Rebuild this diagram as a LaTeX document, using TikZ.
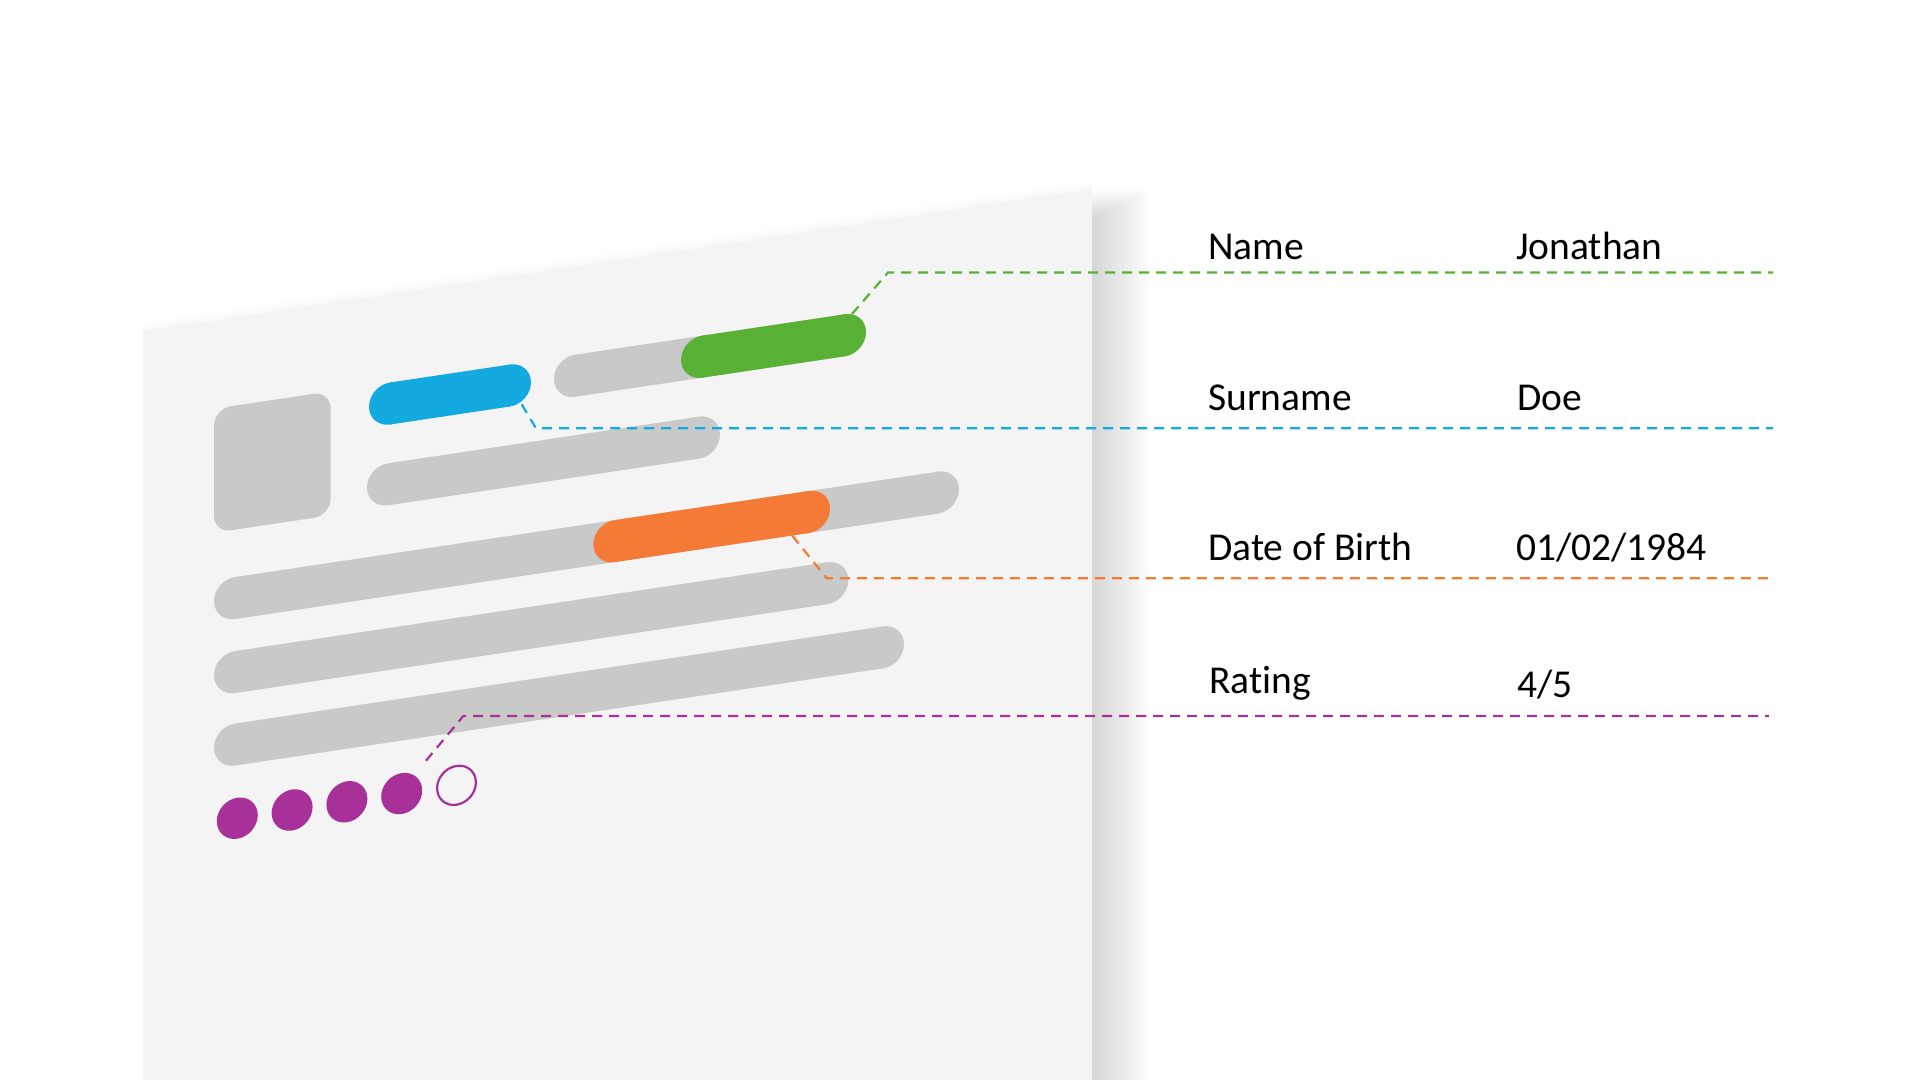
\documentclass[tikz,border=0pt]{standalone}
\usepackage{fontspec}
\setmainfont{Carlito}[Ligatures=NoCommon]
\definecolor{panelbg}{HTML}{F4F4F4}
\definecolor{bargrey}{HTML}{C9C9C9}
\definecolor{cblue}{HTML}{14A9DF}
\definecolor{cgreen}{HTML}{58B135}
\definecolor{corange}{HTML}{F47A36}
\definecolor{cpurple}{HTML}{A73199}
\newcommand\pillshape[4]{%
  \fill[#1] (#2,#4-21) rectangle (#3,#4+21);
  \fill[#1] (#2,#4) circle[radius=21];
  \fill[#1] (#3,#4) circle[radius=21];}
\begin{document}
\begin{tikzpicture}[x=1pt,y=-1pt,
  conn/.style={dash pattern=on 10pt off 7pt, line width=2.2pt},
  lbl/.style={anchor=base west, inner sep=0pt, font=\fontsize{39.5}{47}\selectfont}]
\useasboundingbox (0,0) rectangle (1920,1080);
\fill[white] (0,0) rectangle (1920,1080);
% soft shadow on the right of the panel
\foreach \j in {1,...,14}{
  \fill[black, opacity=0.0105] (1090,188+2.2*\j) rectangle (1092+62-4.3*\j,1080);}
% faint shadow above the top edge
\foreach \d/\o in {12/0.01, 8/0.013, 4/0.018}{
  \fill[black, opacity=\o] (143,335-\d) -- (1092,193-\d) -- (1092,1080) -- (143,1080) -- cycle;}
% panel
\fill[panelbg] (143,335) -- (1092,193) -- (1092,1080) -- (143,1080) -- cycle;
\begin{scope}[yslant=0.15]
  % avatar
  \fill[bargrey, rounded corners=17pt] (214,440.9) rectangle (330.7,564.9);
  % row 1
  \pillshape{cblue}{390}{510}{462}
  \pillshape{bargrey}{575}{845}{462}
  \pillshape{cgreen}{702}{845}{462}
  % row 2
  \pillshape{bargrey}{388}{699}{542.5}
  % row 3
  \pillshape{bargrey}{235}{938}{633.3}
  \pillshape{corange}{614.3}{809}{633.3}
  % rows 4,5
  \pillshape{bargrey}{235}{827.3}{707.3}
  \pillshape{bargrey}{235}{883}{779.8}
  % rating dots
  \foreach \k in {0,1,2,3}{
    \fill[cpurple] (237.3+54.8*\k,853.8) circle[radius=20.5];}
  \draw[cpurple, line width=2.2pt] (237.3+54.8*4,853.8) circle[radius=19.4];
\end{scope}
% connector coordinates
\coordinate (gS) at (852,314);   \coordinate (gC) at (888,272.5);   \coordinate (gE) at (1773,272.5);
\coordinate (bS) at (521.7,404.3); \coordinate (bC) at (536,428.3); \coordinate (bE) at (1773,428.3);
\coordinate (oS) at (792.3,535.7); \coordinate (oC) at (826.7,578.3); \coordinate (oE) at (1773,578.3);
\coordinate (pS) at (426,760.7); \coordinate (pC) at (463.3,716); \coordinate (pE) at (1769,716);
\draw[conn, cgreen] (gS) -- (gC) -- (gE);
\draw[conn, cblue] (bS) -- (bC) -- (bE);
\draw[conn, corange] (oS) -- (oC) -- (oE);
\draw[conn, cpurple] (pS) -- (pC) -- (pE);
% labels
\node[lbl] (nameL) at (1208,259.3) {Name};
\node[lbl] (nameV) at (1516,259.3) {Jonathan};
\node[lbl] (surL) at (1208,410.7) {Surname};
\node[lbl] (surV) at (1517,410.7) {Doe};
\node[lbl] (dobL) at (1208,560) {Date of Birth};
\node[lbl] (dobV) at (1516,560) {01/02/1984};
\node[lbl] (ratL) at (1209,693.3) {Rating};
\node[lbl] (ratV) at (1517,697) {4/5};
\end{tikzpicture}
\end{document}
